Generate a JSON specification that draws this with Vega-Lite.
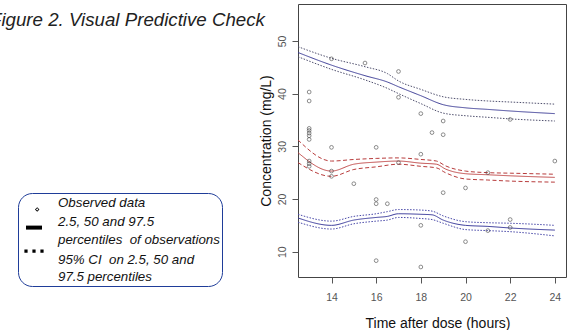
{
 "$schema": "https://vega.github.io/schema/vega-lite/v6.json",
 "width": 268, "height": 273,
 "autosize": {"type": "none"},
 "padding": {"left": 298, "top": 4, "right": 2, "bottom": 53},
 "background": "white",
 "title": {"text": "Figure 2. Visual Predictive Check", "anchor": "start", "frame": "group", "orient": "top", "offset": 0, "dx": -308, "dy": 41, "baseline": "alphabetic", "font": "Liberation Sans", "fontSize": 18.7, "fontStyle": "italic", "fontWeight": "normal", "color": "#222"},
 "config": {
  "font": "Liberation Sans",
  "view": {"stroke": "#444", "strokeWidth": 1},
  "axis": {"domain": false, "grid": false, "tickColor": "#555", "tickSize": 6, "labelColor": "#555", "labelFont": "Liberation Sans", "labelFontSize": 10.5, "titleFont": "Liberation Sans", "titleFontSize": 14, "titleFontWeight": "normal", "titleColor": "#111"}
 },
 "datasets": {
  "obs": [
   {"t": 13, "c": 40.3}, {"t": 13, "c": 38.6}, {"t": 13, "c": 33.4}, {"t": 13, "c": 33.0}, {"t": 13, "c": 32.5}, {"t": 13, "c": 32.0}, {"t": 13, "c": 31.3}, {"t": 13, "c": 27.2}, {"t": 13, "c": 26.7}, {"t": 13, "c": 26.2},
   {"t": 14, "c": 46.6}, {"t": 14, "c": 29.8}, {"t": 14, "c": 25.3}, {"t": 14, "c": 24.3},
   {"t": 15, "c": 22.9}, {"t": 15.5, "c": 45.8},
   {"t": 16, "c": 29.8}, {"t": 16, "c": 19.9}, {"t": 16, "c": 19.1}, {"t": 16, "c": 8.3},
   {"t": 16.5, "c": 19.1},
   {"t": 17, "c": 44.2}, {"t": 17, "c": 39.3}, {"t": 17, "c": 26.9},
   {"t": 18, "c": 36.2}, {"t": 18, "c": 28.5}, {"t": 18, "c": 15.0}, {"t": 18, "c": 7.1},
   {"t": 18.5, "c": 32.6},
   {"t": 19, "c": 34.8}, {"t": 19, "c": 32.2}, {"t": 19, "c": 21.2},
   {"t": 20, "c": 22.1}, {"t": 20, "c": 11.9},
   {"t": 21, "c": 25.0}, {"t": 21, "c": 14.0},
   {"t": 22, "c": 35.1}, {"t": 22, "c": 16.1}, {"t": 22, "c": 14.6},
   {"t": 24, "c": 27.2}
  ],
  "bands": [
   {"s": "top_med", "t": 12.5, "c": 47.8}, {"s": "top_med", "t": 14, "c": 45.4}, {"s": "top_med", "t": 15.5, "c": 43.4}, {"s": "top_med", "t": 16.5, "c": 42.2}, {"s": "top_med", "t": 17, "c": 41.3}, {"s": "top_med", "t": 18, "c": 39.6}, {"s": "top_med", "t": 19, "c": 37.9}, {"s": "top_med", "t": 20, "c": 37.3}, {"s": "top_med", "t": 21, "c": 37.0}, {"s": "top_med", "t": 22, "c": 36.7}, {"s": "top_med", "t": 24, "c": 36.2},
   {"s": "top_hi", "t": 12.5, "c": 48.9}, {"s": "top_hi", "t": 14, "c": 46.7}, {"s": "top_hi", "t": 15.5, "c": 45.1}, {"s": "top_hi", "t": 16.5, "c": 43.8}, {"s": "top_hi", "t": 17, "c": 42.4}, {"s": "top_hi", "t": 18, "c": 40.8}, {"s": "top_hi", "t": 19, "c": 39.4}, {"s": "top_hi", "t": 20, "c": 38.9}, {"s": "top_hi", "t": 21, "c": 38.6}, {"s": "top_hi", "t": 22, "c": 38.4}, {"s": "top_hi", "t": 24, "c": 38.0},
   {"s": "top_lo", "t": 12.5, "c": 47.0}, {"s": "top_lo", "t": 14, "c": 44.6}, {"s": "top_lo", "t": 15.5, "c": 42.6}, {"s": "top_lo", "t": 16.5, "c": 41.0}, {"s": "top_lo", "t": 17, "c": 40.0}, {"s": "top_lo", "t": 18, "c": 38.1}, {"s": "top_lo", "t": 19, "c": 36.3}, {"s": "top_lo", "t": 20, "c": 35.8}, {"s": "top_lo", "t": 21, "c": 35.5}, {"s": "top_lo", "t": 22, "c": 35.2}, {"s": "top_lo", "t": 24, "c": 34.8},
   {"s": "mid_med", "t": 12.5, "c": 28.8}, {"s": "mid_med", "t": 14, "c": 25.3}, {"s": "mid_med", "t": 15, "c": 26.6}, {"s": "mid_med", "t": 16, "c": 27.0}, {"s": "mid_med", "t": 17, "c": 27.2}, {"s": "mid_med", "t": 18, "c": 26.8}, {"s": "mid_med", "t": 18.7, "c": 26.6}, {"s": "mid_med", "t": 19.1, "c": 25.7}, {"s": "mid_med", "t": 20, "c": 24.8}, {"s": "mid_med", "t": 21, "c": 24.6}, {"s": "mid_med", "t": 22, "c": 24.4}, {"s": "mid_med", "t": 24, "c": 24.1},
   {"s": "mid_hi", "t": 12.5, "c": 31.2}, {"s": "mid_hi", "t": 14, "c": 27.2}, {"s": "mid_hi", "t": 15, "c": 27.5}, {"s": "mid_hi", "t": 16, "c": 27.7}, {"s": "mid_hi", "t": 17, "c": 27.8}, {"s": "mid_hi", "t": 18, "c": 27.5}, {"s": "mid_hi", "t": 18.7, "c": 27.2}, {"s": "mid_hi", "t": 19.1, "c": 26.3}, {"s": "mid_hi", "t": 20, "c": 25.3}, {"s": "mid_hi", "t": 21, "c": 25.0}, {"s": "mid_hi", "t": 22, "c": 24.9}, {"s": "mid_hi", "t": 24, "c": 24.7},
   {"s": "mid_lo", "t": 12.5, "c": 26.9}, {"s": "mid_lo", "t": 14, "c": 24.3}, {"s": "mid_lo", "t": 15, "c": 25.6}, {"s": "mid_lo", "t": 16, "c": 26.1}, {"s": "mid_lo", "t": 17, "c": 26.6}, {"s": "mid_lo", "t": 18, "c": 26.2}, {"s": "mid_lo", "t": 18.7, "c": 25.9}, {"s": "mid_lo", "t": 19.1, "c": 25.0}, {"s": "mid_lo", "t": 20, "c": 23.8}, {"s": "mid_lo", "t": 21, "c": 23.6}, {"s": "mid_lo", "t": 22, "c": 23.4}, {"s": "mid_lo", "t": 24, "c": 23.2},
   {"s": "low_med", "t": 12.5, "c": 16.4}, {"s": "low_med", "t": 14, "c": 15.0}, {"s": "low_med", "t": 15, "c": 16.0}, {"s": "low_med", "t": 16, "c": 16.5}, {"s": "low_med", "t": 16.5, "c": 16.7}, {"s": "low_med", "t": 17, "c": 17.2}, {"s": "low_med", "t": 18, "c": 17.1}, {"s": "low_med", "t": 18.5, "c": 17.0}, {"s": "low_med", "t": 19, "c": 16.0}, {"s": "low_med", "t": 20, "c": 15.0}, {"s": "low_med", "t": 21, "c": 14.8}, {"s": "low_med", "t": 22, "c": 14.5}, {"s": "low_med", "t": 24, "c": 14.1},
   {"s": "low_hi", "t": 12.5, "c": 17.1}, {"s": "low_hi", "t": 14, "c": 15.8}, {"s": "low_hi", "t": 15, "c": 16.7}, {"s": "low_hi", "t": 16, "c": 17.2}, {"s": "low_hi", "t": 16.5, "c": 17.6}, {"s": "low_hi", "t": 17, "c": 18.0}, {"s": "low_hi", "t": 18, "c": 17.9}, {"s": "low_hi", "t": 18.5, "c": 17.7}, {"s": "low_hi", "t": 19, "c": 16.8}, {"s": "low_hi", "t": 20, "c": 15.7}, {"s": "low_hi", "t": 21, "c": 15.5}, {"s": "low_hi", "t": 22, "c": 15.4}, {"s": "low_hi", "t": 24, "c": 15.0},
   {"s": "low_lo", "t": 12.5, "c": 15.6}, {"s": "low_lo", "t": 14, "c": 14.3}, {"s": "low_lo", "t": 15, "c": 15.3}, {"s": "low_lo", "t": 16, "c": 15.8}, {"s": "low_lo", "t": 16.5, "c": 16.0}, {"s": "low_lo", "t": 17, "c": 16.5}, {"s": "low_lo", "t": 18, "c": 16.3}, {"s": "low_lo", "t": 18.5, "c": 16.1}, {"s": "low_lo", "t": 19, "c": 15.4}, {"s": "low_lo", "t": 20, "c": 14.2}, {"s": "low_lo", "t": 21, "c": 14.0}, {"s": "low_lo", "t": 22, "c": 13.8}, {"s": "low_lo", "t": 24, "c": 13.0}
  ],
  "leg": [
   {"item": "a"}, {"item": "b"}, {"item": "c"}, {"item": "d"}, {"item": "e"}
  ]
 },
 "layer": [
  {
   "data": {"name": "bands"},
   "mark": {"type": "line", "interpolate": "monotone", "clip": true, "strokeWidth": 1},
   "encoding": {
    "x": {"field": "t", "type": "quantitative", "scale": {"domain": [12.5, 24.5], "nice": false, "zero": false},
          "axis": {"values": [14, 16, 18, 20, 22, 24], "labelPadding": 9, "titlePadding": 14, "titleX": 139.5}, "title": "Time after dose (hours)"},
    "y": {"field": "c", "type": "quantitative", "scale": {"domain": [5.2, 57], "nice": false, "zero": false},
          "axis": {"values": [10, 20, 30, 40, 50], "labelAngle": -90, "labelAlign": "center", "labelBaseline": "bottom", "labelPadding": 5, "titlePadding": 4}, "title": "Concentration (mg/L)"},
    "color": {"field": "s", "type": "nominal", "legend": null,
              "scale": {"domain": ["top_med", "top_hi", "top_lo", "mid_med", "mid_hi", "mid_lo", "low_med", "low_hi", "low_lo"],
                        "range": ["#3c3c96", "#50506e", "#50506e", "#c04848", "#b83c3c", "#b83c3c", "#3c3c9c", "#4848a8", "#4848a8"]}},
    "strokeDash": {"field": "s", "type": "nominal", "legend": null,
              "scale": {"domain": ["top_med", "top_hi", "top_lo", "mid_med", "mid_hi", "mid_lo", "low_med", "low_hi", "low_lo"],
                        "range": [[1, 0], [1.5, 1.5], [1.5, 1.5], [1, 0], [4, 2.5], [4, 2.5], [1, 0], [1.5, 1.5], [1.5, 1.5]]}}
   }
  },
  {
   "data": {"name": "obs"},
   "mark": {"type": "point", "shape": "circle", "size": 14, "filled": false, "stroke": "#333", "strokeWidth": 0.8, "clip": true},
   "encoding": {
    "x": {"field": "t", "type": "quantitative"},
    "y": {"field": "c", "type": "quantitative"}
   }
  },
  {
   "data": {"name": "leg"},
   "mark": {"type": "point", "filled": true, "color": "#000", "opacity": 0},
   "encoding": {
    "shape": {"field": "item", "type": "nominal",
      "scale": {"domain": ["a", "b", "c", "d", "e"],
                "range": ["M0.4,0.52L0.68,0.8L0.4,1.08L0.12,0.8ZM0.4,0.65L0.25,0.8L0.4,0.95L0.55,0.8Z",
                          "M-1,0.45H1V0.95H-1Z",
                          "M0,0Z",
                          "M-1.2,-1.3H-0.8V-0.9H-1.2ZM-0.2,-1.3H0.2V-0.9H-0.2ZM0.8,-1.3H1.2V-0.9H0.8Z",
                          "M0,0Z"]},
      "legend": {"title": null, "orient": "none", "legendX": -280, "legendY": 189, "direction": "vertical",
                 "padding": 2, "symbolOffset": 6, "cornerRadius": 14, "strokeColor": "#1f3d99",
                 "labelFont": "Liberation Sans", "labelFontSize": 13.3, "labelFontStyle": "italic", "labelColor": "#111",
                 "labelLimit": 0, "labelOffset": 16,
                 "labelExpr": "datum.label == 'a' ? 'Observed data' : datum.label == 'b' ? '2.5, 50 and 97.5' : datum.label == 'c' ? 'percentiles\u00a0 of observations' : datum.label == 'd' ? '95% CI\u00a0 on 2.5, 50 and' : '97.5 percentiles'",
                 "symbolSize": 256, "symbolFillColor": "#000", "symbolStrokeWidth": 0, "symbolOpacity": 1, "rowPadding": 2,
                 "encode": {"legend": {"strokeWidth": {"value": 2.5}},
                            "symbols": {"fill": {"value": "#000"}, "stroke": {"value": "transparent"}, "opacity": {"value": 1}}}}}
   }
  }
 ]
}
